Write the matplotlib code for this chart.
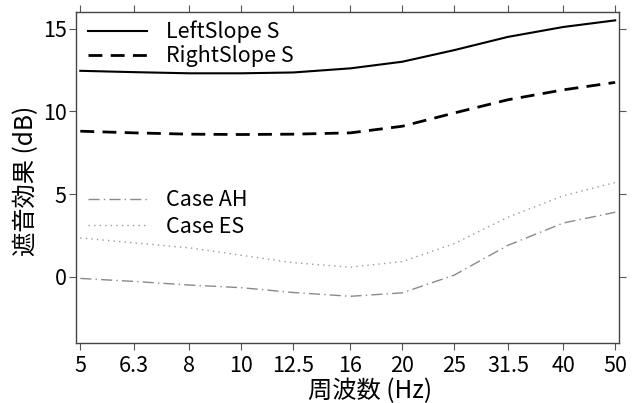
import numpy as np
import matplotlib.pyplot as plt

plt.rcParams['font.family'] = ['Noto Sans CJK JP', 'DejaVu Sans']

# 1/3 オクターブ帯域中心周波数
freq = [5, 6.3, 8, 10, 12.5, 16, 20, 25, 31.5, 40, 50]
freq_labels = ["5", "6.3", "8", "10", "12.5", "16", "20", "25", "31.5", "40", "50"]

left_slope = [12.45, 12.37, 12.3, 12.3, 12.35, 12.6, 13.0, 13.7, 14.5, 15.1, 15.5]
right_slope = [8.8, 8.7, 8.62, 8.6, 8.62, 8.7, 9.1, 9.9, 10.7, 11.3, 11.75]
case_ah = [-0.1, -0.28, -0.5, -0.66, -0.95, -1.18, -0.97, 0.1, 1.9, 3.25, 3.9]
case_es = [2.35, 2.05, 1.75, 1.3, 0.85, 0.58, 0.92, 2.0, 3.6, 4.9, 5.7]

fig, ax = plt.subplots(figsize=(6.41, 4.03), dpi=100)
fig.subplots_adjust(left=0.119, right=0.966, top=0.970, bottom=0.149)

h1, = ax.plot(freq, left_slope, color="black", lw=1.5, label="LeftSlope S")
h2, = ax.plot(freq, right_slope, color="black", lw=2.0, ls=(0, (5, 3)),
              label="RightSlope S")
h3, = ax.plot(freq, case_ah, color="#8a8a8a", lw=1.0, ls=(0, (8, 3, 1, 3)),
              label="Case AH")
h4, = ax.plot(freq, case_es, color="#9a9a9a", lw=1.0, ls=(0, (1, 3)),
              label="Case ES")

ax.set_xscale("log")
m = 10 ** 0.0075
ax.set_xlim(5 / m, 50 * m)
ax.set_ylim(-4, 16)
ax.set_xticks(freq)
ax.set_xticklabels(freq_labels)
ax.minorticks_off()
ax.set_yticks([0, 5, 10, 15])

ax.tick_params(direction="out", length=5, width=0.8, color="#555555",
               labelsize=15.5, top=True, right=True)
ax.tick_params(axis="x", pad=4)
ax.tick_params(axis="y", pad=2)
for sp in ax.spines.values():
    sp.set_color("#444444")
    sp.set_linewidth(1.0)

ax.set_xlabel("周波数 (Hz)", fontsize=17.5, va="center")
ax.xaxis.set_label_coords(0.541, -0.146)
ax.set_ylabel("遮音効果 (dB)", fontsize=17.5, va="center")
ax.yaxis.set_label_coords(-0.092, 0.49)

leg1 = ax.legend(handles=[h1, h2], loc="upper left", bbox_to_anchor=(0.0, 1.01),
                 frameon=False, fontsize=15.5, handlelength=2.75,
                 handletextpad=0.85, borderaxespad=0.15, labelspacing=0.1)
ax.add_artist(leg1)
ax.legend(handles=[h3, h4], loc="upper left", bbox_to_anchor=(0.0, 0.50),
          frameon=False, fontsize=15.5, handlelength=2.75, handletextpad=0.85,
          borderaxespad=0.15, labelspacing=0.2)

fig.savefig("out.png", dpi=100)
